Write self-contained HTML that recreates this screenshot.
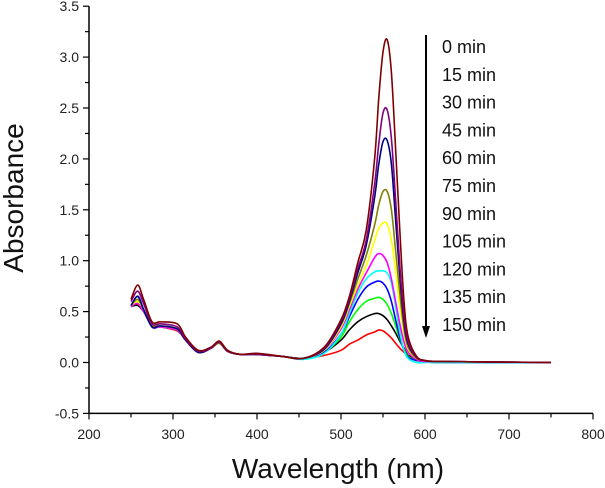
<!DOCTYPE html>
<html><head><meta charset="utf-8"><style>
body{margin:0;background:#fff;}
svg{display:block;font-family:"Liberation Sans",Arial,sans-serif;}
</style></head><body>
<svg id="chart" width="605" height="488" viewBox="0 0 605 488" xmlns="http://www.w3.org/2000/svg">
<g id="axes"></g>
<g id="series"></g>
<g id="legend"></g>
</svg>
<script>
const wavelengths=[250,258,265,275,285,305,315,330,345,355,365,380,400,430,455,480,500,510,520,530,540,545,550,555,560,565,570,575,580,590,600,620,750];
const s0=[0.62,0.76,0.62,0.40,0.40,0.38,0.25,0.12,0.15,0.21,0.12,0.08,0.09,0.06,0.04,0.15,0.42,0.65,0.98,1.30,2.00,2.60,3.05,3.17,2.85,2.10,1.30,0.60,0.25,0.06,0.02,0.01,0.0];
const s1=[0.60,0.70,0.58,0.38,0.38,0.35,0.23,0.11,0.14,0.20,0.11,0.08,0.08,0.06,0.04,0.14,0.40,0.62,0.92,1.20,1.75,2.15,2.45,2.48,2.20,1.60,0.95,0.45,0.20,0.05,0.02,0.01,0.0];
const s2=[0.56,0.65,0.52,0.35,0.36,0.33,0.22,0.10,0.14,0.20,0.11,0.08,0.08,0.06,0.04,0.13,0.38,0.60,0.88,1.15,1.62,1.95,2.17,2.18,1.95,1.40,0.85,0.40,0.18,0.05,0.02,0.01,0.0];
const s3=[0.56,0.62,0.52,0.36,0.36,0.33,0.22,0.10,0.14,0.19,0.11,0.08,0.08,0.06,0.04,0.13,0.37,0.58,0.82,1.05,1.35,1.55,1.68,1.68,1.50,1.10,0.68,0.33,0.15,0.04,0.02,0.01,0.0];
const s4=[0.56,0.60,0.52,0.36,0.36,0.33,0.22,0.10,0.14,0.19,0.11,0.08,0.08,0.06,0.04,0.12,0.35,0.55,0.76,0.95,1.20,1.32,1.37,1.36,1.20,0.90,0.55,0.28,0.13,0.04,0.02,0.01,0.0];
const s5=[0.55,0.58,0.50,0.36,0.35,0.32,0.22,0.10,0.14,0.19,0.11,0.08,0.08,0.06,0.04,0.12,0.33,0.52,0.72,0.88,1.03,1.07,1.05,0.98,0.82,0.60,0.38,0.20,0.10,0.03,0.01,0.01,0.0];
const s6=[0.55,0.60,0.50,0.36,0.35,0.32,0.22,0.10,0.14,0.19,0.11,0.08,0.08,0.06,0.03,0.09,0.28,0.48,0.68,0.82,0.89,0.90,0.90,0.88,0.78,0.55,0.30,0.12,0.04,0.0,0.0,0.0,0.0];
const s7=[0.55,0.65,0.52,0.35,0.35,0.32,0.22,0.10,0.14,0.19,0.11,0.08,0.08,0.06,0.04,0.10,0.28,0.45,0.62,0.74,0.79,0.80,0.78,0.72,0.60,0.42,0.25,0.12,0.05,0.02,0.01,0.0,0.0];
const s8=[0.55,0.60,0.50,0.36,0.35,0.32,0.22,0.10,0.14,0.19,0.11,0.08,0.08,0.06,0.04,0.10,0.25,0.40,0.52,0.60,0.63,0.64,0.62,0.57,0.48,0.36,0.23,0.13,0.06,0.02,0.01,0.0,0.0];
const s9=[0.55,0.56,0.50,0.36,0.35,0.32,0.22,0.10,0.14,0.19,0.11,0.08,0.08,0.06,0.04,0.10,0.22,0.32,0.40,0.45,0.48,0.48,0.46,0.42,0.36,0.29,0.21,0.14,0.07,0.03,0.02,0.01,0.0];
const s10=[0.55,0.57,0.50,0.36,0.35,0.31,0.22,0.10,0.14,0.19,0.11,0.08,0.08,0.06,0.04,0.07,0.12,0.18,0.22,0.27,0.30,0.32,0.31,0.28,0.24,0.19,0.14,0.10,0.07,0.03,0.02,0.01,0.0];
const seriesLabels=["0 min","15 min","30 min","45 min","60 min","75 min","90 min","105 min","120 min","135 min","150 min"];
const seriesColors=["#800000","#800080","#000080","#808000","#ffff00","#ff00ff","#00ffff","#0000ff","#00ff00","#000000","#ff0000"];
const xTicks=[200,300,400,500,600,700,800];
const yTicks=[-0.5,0.0,0.5,1.0,1.5,2.0,2.5,3.0,3.5];
const allSeries=[s0,s1,s2,s3,s4,s5,s6,s7,s8,s9,s10];

const NS="http://www.w3.org/2000/svg";
const X=v=>89+(v-200)*0.84;
const Y=v=>362.5-v*101.8;
function mk(tag,attrs,parent){const e=document.createElementNS(NS,tag);for(const k in attrs)e.setAttribute(k,attrs[k]);parent.appendChild(e);return e;}
const axes=document.getElementById('axes');
let e=mk('line',{x1:X(200),y1:Y(-0.5),x2:X(800),y2:Y(-0.5),stroke:'#000','stroke-width':1.5},axes);


e=mk('line',{x1:X(200),y1:Y(-0.5),x2:X(200),y2:Y(3.5),stroke:'#000','stroke-width':1.5},axes);


for(let v=200;v<=800;v+=50){const maj=xTicks.includes(v);
 e=mk('line',{x1:X(v),y1:Y(-0.5),x2:X(v),y2:Y(-0.5)+(maj?6:4),stroke:'#000','stroke-width':1.2},axes);
 
 }
xTicks.forEach(v=>{e=mk('text',{x:X(v),y:439,'text-anchor':'middle','font-size':14,fill:'#222'},axes);e.textContent=String(v);
 
 });
for(let i=0;i<=16;i++){const v=-0.5+i*0.25;const maj=i%2==0;
 e=mk('line',{x1:X(200),y1:Y(v),x2:X(200)-(maj?6:4),y2:Y(v),stroke:'#000','stroke-width':1.2},axes);
 
 }
yTicks.forEach(v=>{e=mk('text',{x:79,y:Y(v)+5,'text-anchor':'end','font-size':14,fill:'#222'},axes);e.textContent=v.toFixed(1);
 
 });
e=mk('text',{x:338,y:478,'text-anchor':'middle','font-size':28,fill:'#111'},axes);e.textContent='Wavelength (nm)';


e=mk('text',{x:0,y:0,'text-anchor':'middle','font-size':28,fill:'#111',transform:'translate(23,198) rotate(-90)'},axes);e.textContent='Absorbance';



function pathFor(vals){const p=wavelengths.map((w,i)=>[X(w),Y(vals[i])]);
 let d='M'+p[0][0].toFixed(1)+','+p[0][1].toFixed(1);
 for(let i=0;i<p.length-1;i++){const p0=p[Math.max(0,i-1)],p1=p[i],p2=p[i+1],p3=p[Math.min(p.length-1,i+2)];
  const c1=[p1[0]+(p2[0]-p0[0])/6,p1[1]+(p2[1]-p0[1])/6],c2=[p2[0]-(p3[0]-p1[0])/6,p2[1]-(p3[1]-p1[1])/6];
  d+=' C'+c1.map(n=>n.toFixed(1))+' '+c2.map(n=>n.toFixed(1))+' '+p2.map(n=>n.toFixed(1));}
 return d;}
const sg=document.getElementById('series');
for(let k=allSeries.length-1;k>=0;k--){
 e=mk('path',{d:pathFor(allSeries[k]),fill:'none',stroke:seriesColors[k],'stroke-width':1.6},sg);
 
 }
const lg=document.getElementById('legend');
e=mk('line',{x1:426,y1:35,x2:426,y2:328,stroke:'#000','stroke-width':2},lg);


e=mk('polygon',{points:'422,326 430,326 426,338',fill:'#000'},lg);


seriesLabels.forEach((s,i)=>{e=mk('text',{x:442,y:53+i*27.8,'font-size':18,fill:'#111'},lg);e.textContent=s;
 
 });
</script>
</body></html>
